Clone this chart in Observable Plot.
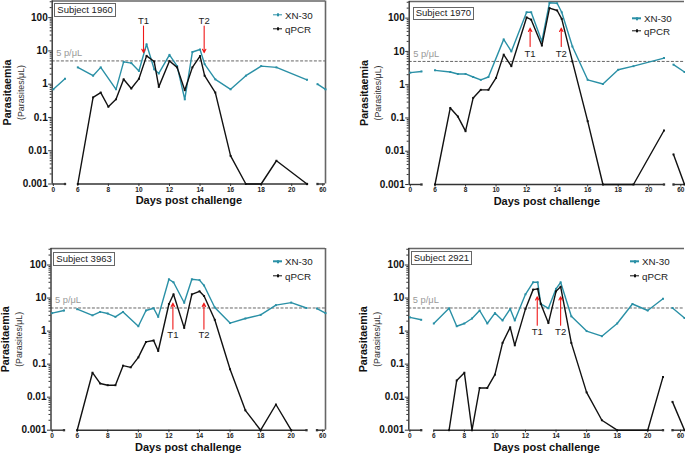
<!DOCTYPE html>
<html><head><meta charset="utf-8">
<script src="https://cdn.jsdelivr.net/npm/d3@7"></script>
<script src="https://cdn.jsdelivr.net/npm/@observablehq/plot@0.6"></script>
<style>
body{margin:0;background:#fff;}
#fig{position:relative;width:685px;height:457px;overflow:hidden;font-family:Arial,"Liberation Sans",sans-serif;background:#fff;}
.panel{position:absolute;}
.panel svg{overflow:visible;}
.subj{position:absolute;border:1.5px solid #666;font-size:9.5px;line-height:10px;padding:0.8px 2px;color:#222;background:#fff;white-space:nowrap;}
.legt{position:absolute;font-size:9.8px;color:#222;transform:translateY(-50%);white-space:nowrap;}
.legm{position:absolute;width:9px;height:1.4px;transform:translateY(-50%);}
.legm::after{content:"";position:absolute;left:3.5px;top:-0.8px;width:2.4px;height:3px;background:inherit;}
</style></head>
<body>
<div id="fig"></div>
<script>
// ---------- data ----------
const subjects = ["1960", "1970", "3963", "2921"];
const seriesNames = ["XN-30", "qPCR"];
const xTicks = [0, 6, 8, 10, 12, 14, 16, 18, 20, 60];
const yTicks = [0.001, 0.01, 0.1, 1, 10, 100];
const yTickLabels = ["0.001", "0.01", "0.1", "1", "10", "100"];
const threshold = 5;

// Subject 1960
const xnDays1960 = [0, 1, 6, 7, 7.5, 8.5, 9, 9.5, 10, 10.5, 11, 11.3, 12, 12.5, 13, 13.5, 14, 14.3, 15, 16, 17, 18, 19, 21, 59, 60.5];
const xnVals1960 = [0.7, 1.45, 3.2, 1.8, 3.2, 0.7, 4.7, 4.3, 2.5, 15.8, 2.8, 2.1, 7.6, 3.5, 0.35, 9.3, 11, 4, 1.4, 0.7, 1.8, 3.5, 3.2, 1.35, 1.0, 0.7];
const qDays1960 = [6, 7, 7.5, 8, 8.5, 9, 9.5, 10, 10.5, 11, 11.3, 12, 12.5, 13, 13.5, 14, 14.3, 15, 16, 17, 18, 19, 21];
const qVals1960 = [0.001, 0.4, 0.56, 0.21, 0.35, 1.4, 0.74, 1.45, 7.1, 4.8, 0.83, 5, 3.2, 0.66, 3.2, 7, 1.8, 0.56, 0.007, 0.001, 0.001, 0.005, 0.001];

// Subject 1970
const xnDays1970 = [0, 1, 6, 7, 7.5, 8, 8.5, 9, 9.5, 10.5, 11, 12, 12.3, 13, 13.5, 14, 14.3, 15, 16, 17, 18, 19, 21, 59, 60.5];
const xnVals1970 = [2.3, 2.5, 2.7, 2.4, 2.1, 2.1, 1.7, 1.4, 1.7, 23, 10, 150, 150, 20, 290, 280, 150, 14, 1.4, 1.05, 2.8, 3.6, 6.3, 4, 2.4];
const qDays1970 = [6, 7, 7.5, 8, 8.5, 9, 9.5, 10, 10.5, 11, 12, 12.3, 13, 13.5, 14, 14.3, 15, 16, 17, 19, 21, 59, 60.5];
const qVals1970 = [0.001, 0.2, 0.11, 0.04, 0.4, 0.7, 0.7, 1.6, 8, 3.6, 105, 90, 15, 200, 170, 95, 5, 0.08, 0.001, 0.001, 0.042, 0.008, 0.001];

// Subject 3963
const xnDays3963 = [0, 1, 6, 7, 7.5, 8, 8.5, 9, 10, 10.5, 11, 11.3, 12, 12.3, 13, 13.5, 14, 14.3, 15, 16, 17, 18, 19, 20, 21, 59, 60.5];
const xnVals3963 = [3.5, 4.2, 4.6, 3.0, 3.8, 3.4, 2.7, 3.8, 1.4, 4.2, 4.9, 2.7, 37, 30, 7.2, 37, 35, 24, 5.2, 1.75, 2.4, 3.1, 6.1, 7.3, 5.0, 4.8, 3.5];
const qDays3963 = [6, 7, 7.5, 8, 8.5, 9, 9.5, 10, 10.5, 11, 11.3, 12, 12.3, 13, 13.5, 14, 14.3, 15, 16, 17, 18, 19, 20];
const qVals3963 = [0.001, 0.055, 0.026, 0.023, 0.023, 0.09, 0.08, 0.16, 0.47, 0.52, 0.25, 6.6, 13, 1.25, 13, 16, 11.5, 2.2, 0.07, 0.004, 0.001, 0.006, 0.001];

// Subject 2921
const xnDays2921 = [0, 1, 6, 7, 7.5, 8, 8.5, 9, 9.5, 10, 10.5, 11, 11.3, 12, 12.5, 12.8, 13, 13.5, 14, 14.3, 15, 16, 17, 18, 19, 20, 21, 59, 60.5];
const xnVals2921 = [2.6, 2.2, 1.7, 4.9, 1.4, 1.7, 2.4, 4.2, 1.7, 3.5, 2.1, 4.7, 2.1, 13, 30, 30, 6.7, 4.9, 19, 30, 2.8, 1.0, 0.7, 1.7, 6.6, 4.2, 9.5, 5, 2.5];
const qDays2921 = [7, 7.5, 8, 8.5, 9, 9.5, 10, 10.5, 11, 11.3, 12, 12.5, 12.8, 13, 13.5, 14, 14.3, 15, 16, 17, 18, 20, 21, 59, 60.5];
const qVals2921 = [0.001, 0.032, 0.055, 0.001, 0.019, 0.019, 0.048, 0.44, 1.3, 0.37, 4.7, 18, 19, 6.7, 1.75, 16, 22, 0.44, 0.014, 0.002, 0.001, 0.001, 0.041, 0.0072, 0.001];

// Treatment markers T1 / T2 (day; arrow start, arrow end, label level)
const tLabels = ["T1", "T2"];
const tDays1960 = [10.3, 14.27]; const tArrow1960 = [56, 8.9, 79];
const tDays1970 = [12.23, 14.27]; const tArrow1970 = [14, 50, 8.5];
const tDays3963 = [12.26, 14.29]; const tArrow3963 = [1.15, 7, 0.76];
const tDays2921 = [12.77, 14.3]; const tArrow2921 = [1.5, 11, 0.93];

// ---------- layout ----------
const teal = "#2a90a6";
const dataBy = {
  "1960": {xd: xnDays1960, xv: xnVals1960, qd: qDays1960, qv: qVals1960, td: tDays1960, ta: tArrow1960},
  "1970": {xd: xnDays1970, xv: xnVals1970, qd: qDays1970, qv: qVals1970, td: tDays1970, ta: tArrow1970},
  "3963": {xd: xnDays3963, xv: xnVals3963, qd: qDays3963, qv: qVals3963, td: tDays3963, ta: tArrow3963},
  "2921": {xd: xnDays2921, xv: xnVals2921, qd: qDays2921, qv: qVals2921, td: tDays2921, ta: tArrow2921}
};
const xDomain = [-0.1, 1, 6, 21, 59, 60.5];
const layout = {
  "1960": {left: 0, top: 0, w: 340, h: 228, yTop: 0.5, yBot: 183.5, xr: [51.7, 64.5, 77.3, 306.5, 317, 325], right: true, subj: [54.3, 3.3], leg: [273, 285, 15, 29], dy: 19.5},
  "1970": {left: 340, top: 0, w: 345, h: 228, yTop: 1, yBot: 184, xr: [68.7, 81, 94.5, 323.5, 333, 344], right: false, subj: [72.7, 6.7], leg: [292, 304, 18.3, 31], dy: 20.5},
  "3963": {left: 0, top: 228, w: 340, h: 229, yTop: 20, yBot: 201.7, xr: [50.5, 63.5, 76.7, 306, 316.5, 325], right: true, subj: [53.3, 24.3], leg: [273.3, 285, 33.3, 48], dy: 20.5},
  "2921": {left: 340, top: 228, w: 345, h: 229, yTop: 20, yBot: 201.7, xr: [68.3, 80.7, 93.3, 322.5, 332, 344], right: false, subj: [70.7, 23.3], leg: [290, 302, 33.3, 47.7], dy: 20.5}
};
const segOf = d => d <= 1 ? 0 : (d <= 21 ? 1 : 2);
const toRows = (days, vals) => days.map((d, i) => ({day: d, v: vals[i], seg: segOf(d)}));
const minorTicks = [];
for (const p of [-3, -2, -1, 0, 1, 2]) for (let k = 2; k <= 9; k++) { const v = k * 10 ** p; if (v < 10 ** 2.5) minorTicks.push(v); }
const axisSegs = [{a: -0.1, b: 1}, {a: 6, b: 21}, {a: 59, b: 60.5}];
const segCaps = [1, 21, 59];

const fig = document.getElementById("fig");
for (const s of subjects) {
  const L = layout[s], D = dataBy[s];
  const xn = toRows(D.xd, D.xv), q = toRows(D.qd, D.qv);
  const marks = D.td.map((d, i) => ({day: d, y1: D.ta[0], y2: D.ta[1], ty: D.ta[2], label: tLabels[i]}));
  const xRight = L.xr[L.xr.length - 1];
  const chart = Plot.plot({
    width: L.w, height: L.h,
    marginTop: L.yTop, marginBottom: L.h - L.yBot, marginLeft: L.xr[0], marginRight: L.w - xRight,
    x: {type: "linear", domain: xDomain, range: L.xr, label: null},
    y: {type: "log", domain: [0.001, 10 ** 2.5], label: null},
    style: {fontFamily: "Arial, 'Liberation Sans', sans-serif", background: "transparent", color: "#111"},
    marks: [
      Plot.ruleY([threshold], {stroke: "#555", strokeDasharray: "3,1.6", strokeWidth: 0.9}),
      Plot.text(["5 p/\u03BCL"], {y: threshold, frameAnchor: "left", dx: 4, dy: -7.5, textAnchor: "start", fill: "#999", fontSize: 9.3}),
      Plot.ruleY([10 ** 2.5], {stroke: "#666", strokeWidth: 1.6}),
      L.right ? Plot.ruleX([60.5], {stroke: "#666", strokeWidth: 1.6}) : null,
      Plot.ruleX([-0.1], {stroke: "#333", strokeWidth: 1.4}),
      Plot.ruleY(axisSegs, {y: 0.001, x1: "a", x2: "b", stroke: "#333", strokeWidth: 1.4}),
      Plot.dot(segCaps, {x: d => d, y: 0.001, r: 1.3, fill: "#333", symbol: "square"}),
      Plot.axisY({ticks: minorTicks, tickSize: 2, tickFormat: () => "", stroke: "#333"}),
      Plot.axisY({ticks: yTicks, tickSize: 3.5, tickPadding: 1, tickFormat: d => yTickLabels[yTicks.indexOf(d)], fontSize: 10, fontWeight: "bold", fill: "#111", stroke: "#333"}),
      Plot.axisX({ticks: xTicks, tickSize: 2.5, tickPadding: 0.5, tickFormat: d => String(d), fontSize: 6.5, fontWeight: "bold", fill: "#222", stroke: "#333"}),
      Plot.line(xn, {x: "day", y: "v", z: "seg", stroke: teal, strokeWidth: 1.4}),
      Plot.dot(xn, {x: "day", y: "v", r: 1.1, fill: teal, symbol: "square"}),
      Plot.line(q, {x: "day", y: "v", z: "seg", stroke: "#111", strokeWidth: 1.4}),
      Plot.dot(q, {x: "day", y: "v", r: 1.1, fill: "#111", symbol: "square"}),
      Plot.arrow(marks, {x: "day", y1: "y1", y2: "y2", stroke: "#f01818", strokeWidth: 1.1, headLength: 5, headAngle: 55}),
      Plot.text(marks, {x: "day", y: "ty", text: "label", fontSize: 9.5, fill: "#222"}),
      Plot.text(["Parasitaemia"], {frameAnchor: "left", dx: -45, rotate: -90, textAnchor: "middle", fontWeight: "bold", fontSize: 10.7, fill: "#111"}),
      Plot.text(["(Parasites/\u03BCL)"], {frameAnchor: "left", dx: -31.5, rotate: -90, textAnchor: "middle", fontSize: 8.8, fill: "#333"}),
      Plot.text(["Days post challenge"], {frameAnchor: "bottom", dy: L.dy, fontWeight: "bold", fontSize: 11, fill: "#111"})
    ].filter(Boolean)
  });
  const wrap = document.createElement("div");
  wrap.className = "panel";
  wrap.style.left = L.left + "px"; wrap.style.top = L.top + "px";
  wrap.style.width = L.w + "px"; wrap.style.height = L.h + "px";
  wrap.appendChild(chart);
  const box = document.createElement("div");
  box.className = "subj"; box.textContent = "Subject " + s;
  box.style.left = L.subj[0] + "px"; box.style.top = L.subj[1] + "px";
  wrap.appendChild(box);
  const cols = [teal, "#111"];
  seriesNames.forEach((name, i) => {
    const cy = L.leg[2 + i];
    const m = document.createElement("div");
    m.className = "legm"; m.style.left = L.leg[0] + "px"; m.style.top = cy + "px"; m.style.background = cols[i];
    const t = document.createElement("div");
    t.className = "legt"; t.textContent = name; t.style.left = L.leg[1] + "px"; t.style.top = cy + "px";
    wrap.appendChild(m); wrap.appendChild(t);
  });
  fig.appendChild(wrap);
}
</script>
</body></html>
